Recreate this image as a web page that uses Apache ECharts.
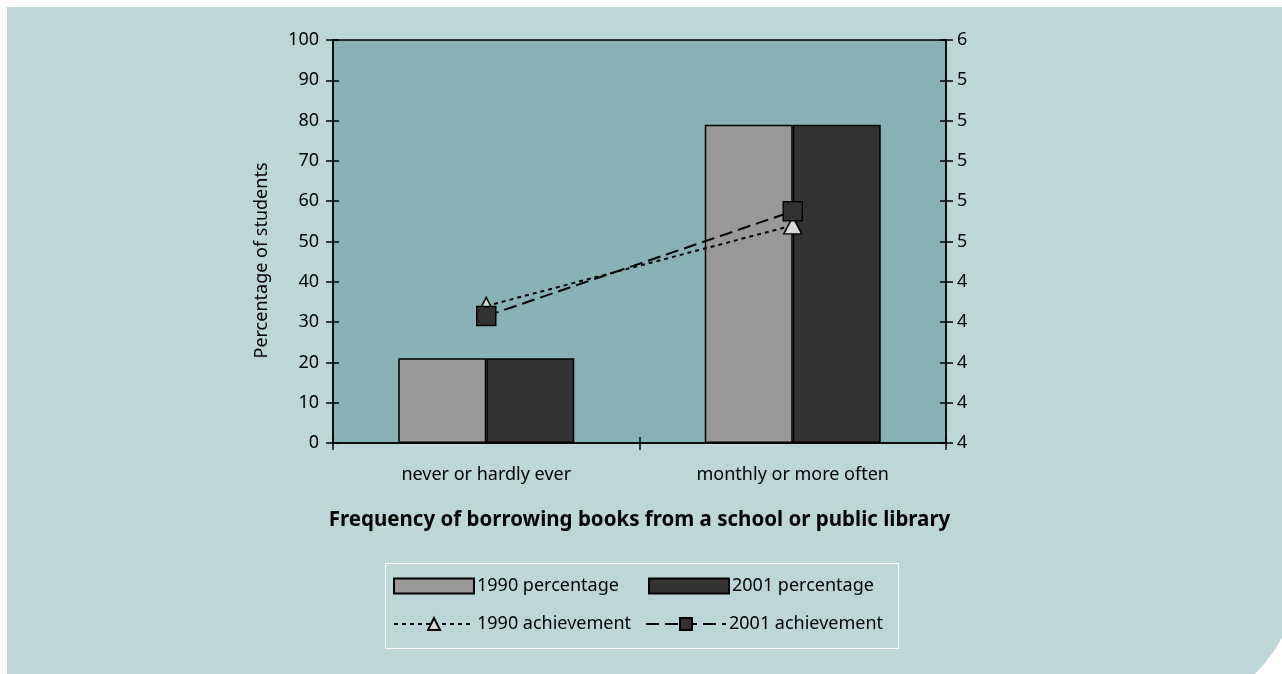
<!DOCTYPE html>
<html>
<head>
<meta charset="utf-8">
<script src="https://cdn.jsdelivr.net/npm/echarts@6/dist/echarts.min.js"></script>
<style>
  html, body { margin: 0; padding: 0; background: #ffffff; }
  #chart { width: 1282px; height: 674px; }
</style>
</head>
<body>
<div id="chart"></div>
<script>
// Borrowing frequency categories
const categories = ['never or hardly ever', 'monthly or more often'];

// Share of students (%) — left axis
const pct1990 = [21, 79];
const pct2001 = [21, 79];

// Reading achievement — right axis
const ach1990 = [4.68, 5.08];
const ach2001 = [4.63, 5.15];

// Axis scales
const leftMin = 0, leftMax = 100, leftStep = 10;
const rightMin = 4, rightMax = 6, rightStep = 0.2;

const FONT = 'Noto Sans';
const INK = '#000000';
const LABEL_SIZE = 18;

const chart = echarts.init(document.getElementById('chart'), null, { renderer: 'canvas' });

const gridBox = { left: 333, right: 336, top: 40, bottom: 231 };

const baseLegend = {
  orient: 'horizontal',
  padding: 0,
  itemWidth: 80,
  itemHeight: 15,
  itemGap: 10,
  textStyle: { fontFamily: FONT, fontSize: LABEL_SIZE, color: INK, padding: [0, 0, 0, -2] }
};

chart.setOption({
  backgroundColor: '#ffffff',
  animation: false,
  textStyle: { fontFamily: FONT },
  graphic: [
    {
      type: 'rect', z: -10, silent: true,
      shape: { x: 7, y: 7, width: 1293, height: 713, r: [0, 0, 155, 0] },
      style: { fill: '#bdd7d8' }
    },
    {
      type: 'rect', z: -5, silent: true,
      shape: { x: 385.5, y: 563.5, width: 513, height: 85 },
      style: { fill: 'none', stroke: '#ffffff', lineWidth: 1 }
    }
  ],
  grid: Object.assign({
    show: true,
    backgroundColor: '#87b2b7',
    borderColor: INK,
    borderWidth: 1.5
  }, gridBox),
  legend: [
    Object.assign({}, baseLegend, { left: 393, top: 577, data: [{ name: '1990 percentage', icon: 'rect' }] }),
    Object.assign({}, baseLegend, { left: 648, top: 577, data: [{ name: '2001 percentage', icon: 'rect' }] }),
    Object.assign({}, baseLegend, { left: 393, top: 615, data: ['1990 achievement'] }),
    Object.assign({}, baseLegend, { left: 645, top: 615, data: ['2001 achievement'] })
  ],
  xAxis: [
    {
      type: 'category',
      data: categories,
      boundaryGap: true,
      axisLine: { lineStyle: { color: INK, width: 1.5 } },
      axisTick: { show: true, length: 7, lineStyle: { color: INK, width: 1.5 } },
      axisLabel: { color: INK, fontSize: LABEL_SIZE, margin: 23 },
      name: 'Frequency of borrowing books from a school or public library',
      nameLocation: 'middle',
      nameGap: 67,
      nameTextStyle: { color: INK, fontSize: 20.5, fontWeight: 'bold' }
    },
    {
      // inner half of the crossing ticks
      type: 'category',
      data: categories,
      position: 'bottom',
      boundaryGap: true,
      axisLine: { show: false },
      axisTick: { show: true, inside: true, length: 6, lineStyle: { color: INK, width: 1.5 } },
      axisLabel: { show: false }
    }
  ],
  yAxis: [
    {
      type: 'value',
      position: 'left',
      min: leftMin, max: leftMax, interval: leftStep,
      splitLine: { show: false },
      axisLine: { show: true, lineStyle: { color: INK, width: 1.5 } },
      axisTick: { show: true, length: 7, lineStyle: { color: INK, width: 1.5 } },
      axisLabel: { color: INK, fontSize: LABEL_SIZE, margin: 14 },
      name: 'Percentage of students',
      nameLocation: 'middle',
      nameRotate: 90,
      nameGap: 62,
      // title sits a little below the axis midpoint
      nameTextStyle: { color: INK, fontSize: LABEL_SIZE, padding: [0, 38, 0, 0] }
    },
    {
      type: 'value',
      position: 'right',
      min: rightMin, max: rightMax, interval: rightStep,
      splitLine: { show: false },
      axisLine: { show: true, lineStyle: { color: INK, width: 1.5 } },
      axisTick: { show: true, length: 7, lineStyle: { color: INK, width: 1.5 } },
      axisLabel: {
        color: INK, fontSize: LABEL_SIZE, margin: 11,
        formatter: v => String(Math.floor(v + 1e-9))
      }
    },
    {
      type: 'value',
      position: 'left',
      min: leftMin, max: leftMax, interval: leftStep,
      splitLine: { show: false },
      axisLine: { show: false },
      axisTick: { show: true, inside: true, length: 6, lineStyle: { color: INK, width: 1.5 } },
      axisLabel: { show: false }
    },
    {
      type: 'value',
      position: 'right',
      min: rightMin, max: rightMax, interval: rightStep,
      splitLine: { show: false },
      axisLine: { show: false },
      axisTick: { show: true, inside: true, length: 6, lineStyle: { color: INK, width: 1.5 } },
      axisLabel: { show: false }
    }
  ],
  series: [
    {
      name: '1990 percentage',
      type: 'bar',
      yAxisIndex: 0,
      data: pct1990,
      barWidth: 88,
      barGap: '0%',
      itemStyle: { color: '#999999', borderColor: INK, borderWidth: 1.5 }
    },
    {
      name: '2001 percentage',
      type: 'bar',
      yAxisIndex: 0,
      data: pct2001,
      barWidth: 88,
      barGap: '0%',
      itemStyle: { color: '#333333', borderColor: INK, borderWidth: 1.5 }
    },
    {
      name: '1990 achievement',
      type: 'line',
      yAxisIndex: 1,
      data: ach1990,
      symbol: 'triangle',
      symbolSize: [18, 17],
      showAllSymbol: true,
      lineStyle: { color: INK, width: 2, type: [4, 4] },
      itemStyle: { color: '#d9d9d9', borderColor: INK, borderWidth: 1.5 },
      z: 3
    },
    {
      name: '2001 achievement',
      type: 'line',
      yAxisIndex: 1,
      data: ach2001,
      symbol: 'rect',
      symbolSize: 19,
      showAllSymbol: true,
      lineStyle: { color: INK, width: 2, type: [13, 6] },
      itemStyle: { color: '#333333', borderColor: INK, borderWidth: 1.5 },
      z: 4
    }
  ]
});
</script>
</body>
</html>
